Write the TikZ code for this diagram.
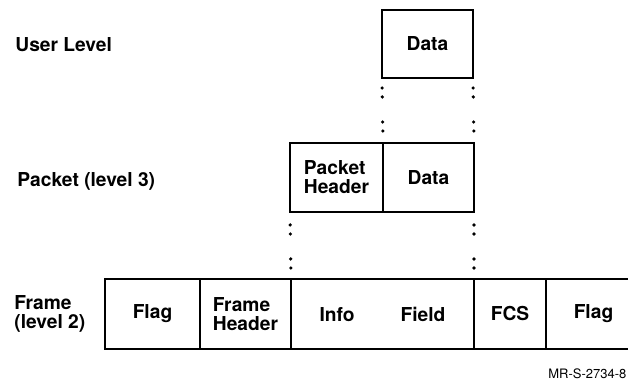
\documentclass[tikz,border=0pt]{standalone}
\usepackage{fontspec}
\setmainfont{TeX Gyre Heros}
\usetikzlibrary{positioning}

\begin{document}
\begin{tikzpicture}[x=0.5pt,y=-0.5pt,font=\bfseries\fontsize{9.6}{9.5}\selectfont,node distance=0pt,cell/.style={draw,line width=1.4pt,inner sep=0pt,outer sep=0pt,align=left,minimum height=#1},cell/.default=35pt,colon/.style={line width=1.8pt,line cap=round,dash pattern=on 0pt off 4.5pt on 0pt off 12.5pt},lvl/.style={align=left,inner sep=0pt}]
\useasboundingbox (0,0) rectangle (628,383);
% levels
\node[lvl,anchor=base west] (lvuser) at (15,52) {User Level};
\node[lvl,anchor=base west] (lvpkt) at (17,187) {Packet (level 3)};
\node[lvl,anchor=west] (lvframe) at (14,314) {Frame\\(level 2)};
% user data
\node[cell=34pt,minimum width=45.5pt,anchor=north west] (udata) at (382,10) {Data};
% packet
\node[cell=34.5pt,minimum width=46.5pt,anchor=north west] (phead) at (290,143) {Packet\\Header};
\node[cell=34.5pt,minimum width=45.5pt,right=of phead] (pdata) {Data};
% frame
\node[cell,minimum width=47.5pt,anchor=north west] (flag) at (105,279) {Flag};
\node[cell,minimum width=45.5pt,right=of flag] (fhead) {Frame\\Header};
\node[cell,minimum width=91.5pt,right=of fhead] (info) {Info\hspace{23pt}Field};
\node[cell,minimum width=36pt,right=of info] (fcs) {FCS};
\node[cell,minimum width=47.5pt,right=of fcs] (flagb) {Flag};
\draw[colon,shorten <=5pt,shorten >=5.9pt] (udata.south west)--(pdata.north west);\draw[colon,shorten <=5pt,shorten >=5.9pt] (udata.south east)--(pdata.north east);
\draw[colon,shorten <=6.5pt,shorten >=5.4pt] (phead.south west)--(info.north west);\draw[colon,shorten <=6.5pt,shorten >=5.4pt] (pdata.south east)--(info.north east);
\node[anchor=base west,inner sep=0pt,font=\mdseries\fontsize{6.5}{7}\selectfont] (tag) at (548,379) {MR-S-2734-8};
\end{tikzpicture}
\end{document}
